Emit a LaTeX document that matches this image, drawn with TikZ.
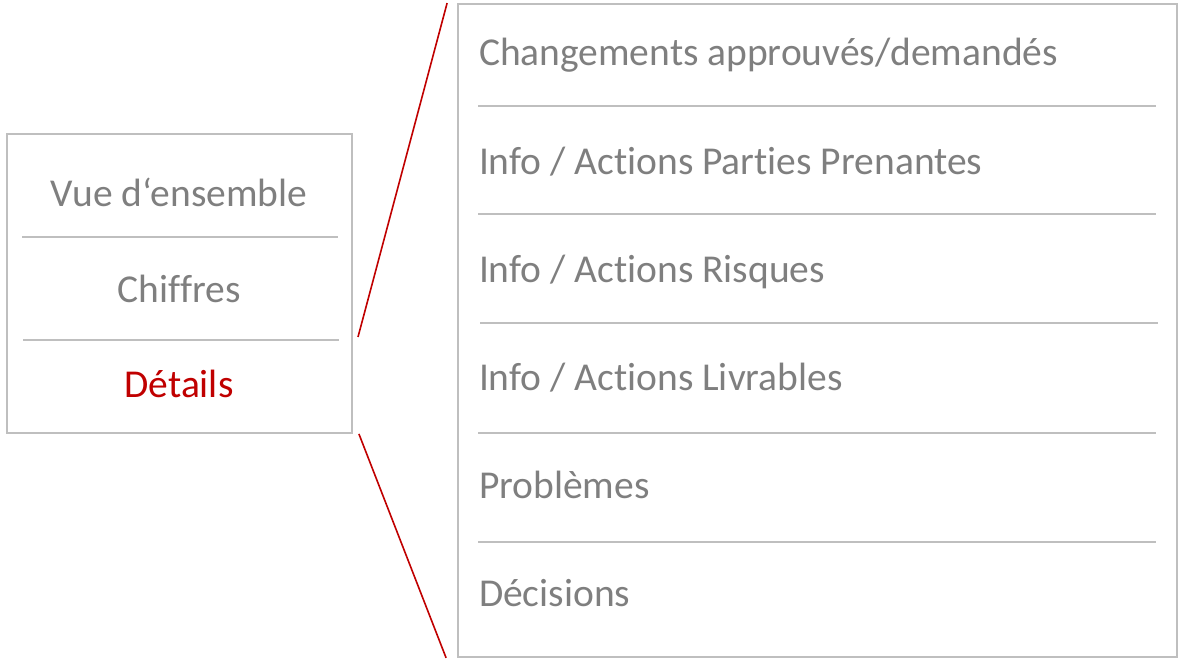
\documentclass[tikz,border=0pt]{standalone}
\usepackage{fontspec}
\setmainfont[Ligatures=NoCommon]{Carlito}
\usepackage{tikz}
\usetikzlibrary{positioning}
\definecolor{txtgray}{HTML}{7F7F7F}
\definecolor{rulegray}{HTML}{BFBFBF}
\definecolor{detred}{HTML}{C00000}

\begin{document}
\begin{tikzpicture}[x=1pt,y=1pt,node distance=108.2pt,on grid,
    box/.style={draw=rulegray,line width=1.8pt,inner sep=0pt},
    rule/.style={draw=rulegray,line width=1.6pt},
    zoomline/.style={draw=detred,line width=1.6pt},
    menuitem/.style={inner sep=0pt,text=txtgray,text height=28pt,text depth=10pt,
                     font=\fontsize{39.5}{47}\selectfont},
    topic/.style={menuitem,text width=660pt,align=flush left}]
    \useasboundingbox (0,0) rectangle (1186,666);
    % left menu
    \node[box,minimum width=345pt,minimum height=299pt] (menu) at (179.5,382.5) {};
    \node[menuitem]           (vue)      at (179,468)    {Vue d‘ensemble};
    \node[menuitem]           (chiffres) [below=95.5pt of vue]      {Chiffres};
    \node[menuitem,text=detred] (details) [below=95.5pt of chiffres] {Détails};
    \draw[rule] (22,429) -- (338,429);
    \draw[rule] (23,326) -- (339,326);
    % right list
    \node[box,minimum width=719pt,minimum height=653pt] (list) at (817.5,335.5) {};
    \node[topic] (changes)  at (809,609)          {Changements approuvés/demandés};
    \node[topic] (parties)  [below=of changes]    {Info / Actions Parties Prenantes};
    \node[topic] (risques)  [below=of parties]    {Info / Actions Risques};
    \node[topic] (livr)     [below=of risques]    {Info / Actions Livrables};
    \node[topic] (probl)    [below=of livr]       {Problèmes};
    \node[topic] (decis)    [below=of probl]      {Décisions};
    \draw[rule] (478,560) -- (1156,560);
    \draw[rule] (478,452) -- (1156,452);
    \draw[rule] (480,343) -- (1158,343);
    \draw[rule] (478,233) -- (1156,233);
    \draw[rule] (478,124) -- (1156,124);
    % zoom lines
    \coordinate (dtop) at (358,329);
    \draw[zoomline] (dtop) -- ([xshift=-10pt]list.north west);
    \draw[zoomline] ([xshift=6pt]menu.south east) -- ([xshift=-11pt]list.south west);
\end{tikzpicture}
\end{document}
